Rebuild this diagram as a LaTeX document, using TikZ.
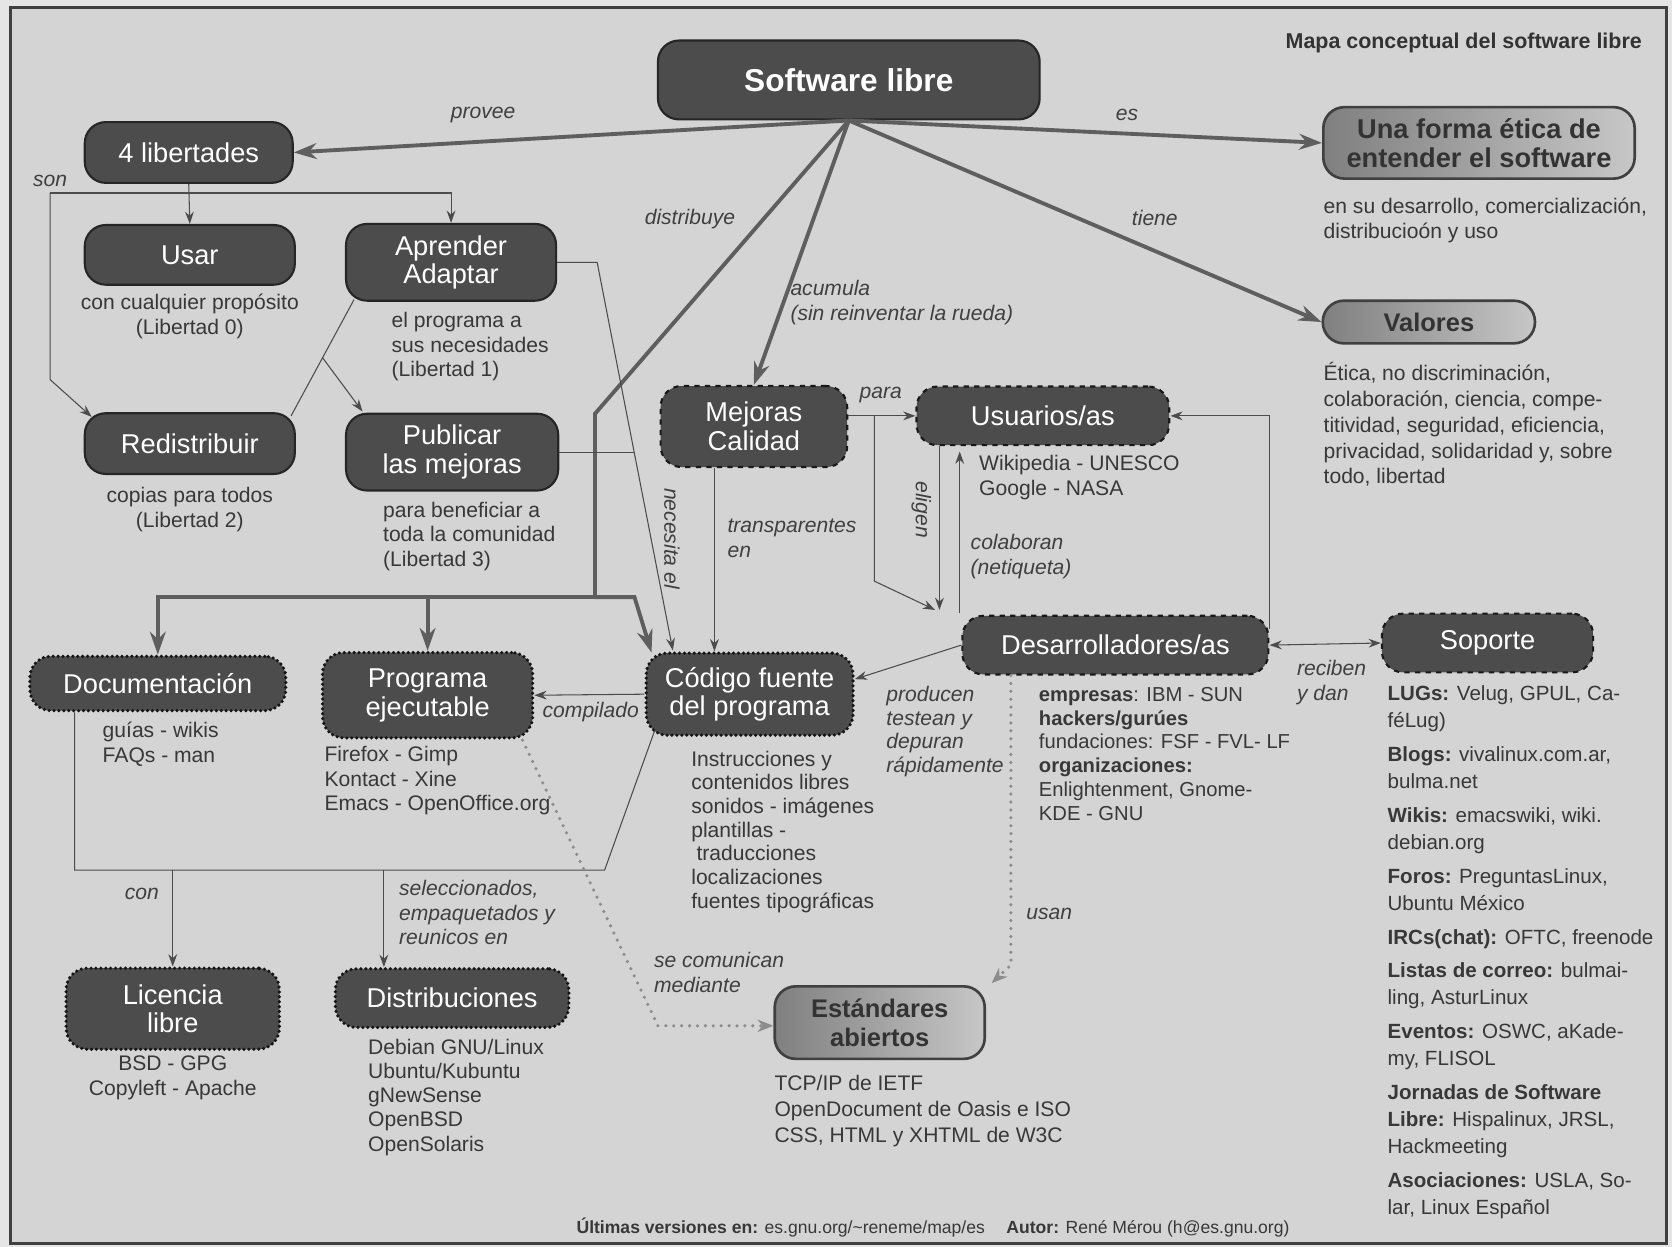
\documentclass[tikz,border=0pt]{standalone}
\usepackage{fontspec}
\setmainfont{Liberation Sans}
\usetikzlibrary{arrows.meta,calc}

\newcommand{\px}{0.021327cm}
\newcommand{\boxsize}{\fontsize{15.5}{16.3}\selectfont}
\newcommand{\descsize}{\fontsize{12}{14}\selectfont}

\begin{document}
\begin{tikzpicture}[x=\px, y=-\px,
	box/.style={draw=black!85, fill=black!70, text=white, rounded corners=12pt, line width=1.2pt, align=center, inner sep=0pt, font=\boxsize},
	dashbox/.style={box, dashed, draw=black!90},
	dotbox/.style={box, draw=black!92, line width=2pt, dash pattern=on 0pt off 2.8pt, line cap=round},
	lightbox/.style={box, draw=black!75, left color=black!50, right color=black!22, text=black!80, font=\boxsize\bfseries, line width=1.5pt},
	wh/.style 2 args={minimum width=#1*\px, minimum height=#2*\px},
	lbl/.style={font=\descsize\itshape, text=black!75, inner sep=0pt, align=left},
	desc/.style={font=\descsize, text=black!78, inner sep=0pt, align=left},
	thickarr/.style={line width=2.2pt, draw=black!63, -{Stealth[length=13pt,width=9pt]}},
	thinline/.style={line width=0.6pt, draw=black!70},
	thinarr/.style={thinline, -{Stealth[length=7pt,width=5pt]}},
	dotarr/.style={line width=2pt, draw=black!45, dash pattern=on 0pt off 4.5pt, line cap=round, -{Stealth[length=9pt,width=7pt]}}]

		\useasboundingbox (0,0) rectangle (1568,1169);
		\fill[black!10] (0,0) rectangle (1568,1169);
		\draw[line width=1.5pt, draw=black!75, fill=black!17] (10,7) rectangle (1563,1166);

		\node[desc, anchor=east, font=\fontsize{12.2}{14}\selectfont\bfseries, text=black!80] (titulo) at (1540,40) {Mapa conceptual del software libre};

		\node[box, wh={358}{74}, font=\fontsize{18}{20}\selectfont\bfseries] (sl) at (796,75) {Software libre};
		\node[box, wh={195}{57}] (lib) at (177,143) {4 libertades};
		\node[box, wh={197}{56}] (usar) at (178,239) {Usar};
		\node[box, wh={197}{72}] (apr) at (423,246) {Aprender\\Adaptar};
		\node[box, wh={197}{57}] (redis) at (178,416) {Redistribuir};
		\node[box, wh={199}{72}] (publ) at (424,424) {Publicar\\las mejoras};
		\node[dashbox, wh={175}{76}] (mej) at (707,400) {Mejoras\\Calidad};
		\node[dashbox, wh={237}{55}] (usu) at (978,390) {Usuarios/as};
		\node[dashbox, wh={287}{55}] (des) at (1046,605) {Desarrolladores/as};
		\node[dashbox, wh={198}{55}] (sop) at (1395,603) {Soporte};
		\node[lightbox, wh={292}{67}] (etica) at (1387,134) {Una forma ética de\\entender el software};
		\node[lightbox, wh={199}{40}, font=\fontsize{14.5}{16}\selectfont\bfseries] (val) at (1340,302) {Valores};
		\node[dotbox, wh={240}{51}] (doc) at (148,641) {Documentación};
		\node[dotbox, wh={197}{80}] (prog) at (401,652) {Programa\\ejecutable};
		\node[dotbox, wh={194}{77}] (cod) at (703,651) {Código fuente\\del programa};
		\node[dotbox, wh={200}{76}] (lic) at (162,946) {Licencia\\libre};
		\node[dotbox, wh={219}{55}] (dist) at (424,936) {Distribuciones};
		\node[lightbox, wh={197}{68}, font=\fontsize{14.5}{16.3}\selectfont\bfseries] (est) at (825,959) {Estándares\\abiertos};

		\coordinate (dbend) at (558,388);
		\coordinate (dbus) at (558,560);
		\coordinate (dright) at (595,560);
		\coordinate (codnw) at (611,612);
		\draw[thickarr] (sl.south) -- (lib.east);
		\draw[thickarr] (sl.south) -- (etica.west);
		\draw[thickarr] (sl.south) -- (val.west);
		\draw[thickarr] (sl.south) -- (mej.north);
		\draw[thickarr, -] (sl.south) -- (dbend) -- (dbus);
		\draw[thickarr] (dbus) -- (dbus -| doc.north) -- (doc.north);
		\draw[thickarr] (dbus -| prog.north) -- (prog.north);
		\draw[thickarr] (dbus) -- (dright) -- (codnw);

		\coordinate (son) at (47,181);
		\coordinate (sonbend) at (47,356);
		\coordinate (redisnw) at (86,391);
		\draw[thinarr] (lib.south) -- (usar.north);
		\draw[thinarr] (son) -- (son -| apr.north) -- (apr.north);
		\draw[thinarr] (son) -- (sonbend) -- (redisnw);

		\coordinate (aprsw) at (332,281);
		\coordinate (redisne) at (273,390);
		\coordinate (publnw) at (340,386);
		\draw[thinline] (aprsw) -- (redisne);
		\draw[thinarr] ($(aprsw)!0.5!(redisne)$) -- (publnw);

		\coordinate (necA) at (560,247);
		\coordinate (necB) at (631,610);
		\coordinate (necC) at (594.6,424);
		\draw[thinarr] (apr.east) -- (apr.east -| necA) -- (necB);
		\draw[thinline] (publ.east) -- (necC);

		\coordinate (trx) at (670,0);
		\draw[thinarr] (mej.south -| trx) -- (cod.north -| trx);

		\coordinate (pb1) at (820,390);
		\coordinate (pb2) at (820,545);
		\coordinate (pb3) at (877,572);
		\draw[thinarr] (mej.east |- usu.west) -- (usu.west);
		\draw[thinarr] (pb1) -- (pb2) -- (pb3);

		\coordinate (el) at (881,0);
		\coordinate (co) at (900,575);
		\draw[thinarr] (usu.south -| el) -- (el |- pb3);
		\draw[thinarr, shorten >=3pt] (co) -- (co |- usu.south);
		\draw[thinarr] ([yshift=0.32cm]des.east) |- (usu.east);
		\draw[thinarr] (des.west) -- ([yshift=0.3cm]cod.east);
		\draw[thinarr, {Stealth[length=7pt,width=5pt]}-{Stealth[length=7pt,width=5pt]}] (des.east) -- (sop.west);
		\draw[thinarr] (cod.west) -- (prog.east);

		\coordinate (codsw) at (614,685);
		\coordinate (busR) at (567,816);
		\coordinate (busL) at (70,816);
		\coordinate (distx) at (360,816);
		\draw[thinline] (codsw) -- (busR) -- (busL) -- (busL |- doc.south);
		\draw[thinarr] (busL -| lic.north) -- (lic.north);
		\draw[thinarr] (distx) -- (distx |- dist.north);

		\coordinate (us1) at (948,905);
		\coordinate (us2) at (930,922);
		\coordinate (sc1) at (490,694);
		\coordinate (sc2) at (617,962);
		\draw[dotarr] (des.south -| us1) -- (us1) -- (us2);
		\draw[dotarr] (sc1) -- (sc2) -- (est.west |- sc2);

		\node[lbl] (lprovee) at (453,108) {provee};
		\node[lbl] (les) at (1057,108) {es};
		\node[lbl] (lson) at (47,170) {son};
		\node[lbl] (ldistr) at (647,205) {distribuye};
		\node[lbl] (ltiene) at (1083,204) {tiene};
		\node[lbl, anchor=west] (lacum) at (741,284) {acumula\\(sin reinventar la rueda)};
		\node[lbl] (lpara) at (826,370) {para};
		\node[lbl, rotate=-90] (lnec) at (630,505) {necesita el};
		\node[lbl, anchor=west] (ltransp) at (682,505) {transparentes\\en};
		\node[lbl, rotate=-90] (leligen) at (864,478) {eligen};
		\node[lbl, anchor=west] (lcolab) at (910,522) {colaboran\\(netiqueta)};
		\node[lbl] (lcomp) at (554,668) {compilado};
		\node[lbl, anchor=west, font=\fontsize{12}{13.6}\selectfont\itshape] (lprod) at (831,686) {producen\\testean y\\depuran\\rápidamente};
		\node[lbl, anchor=west] (lrecib) at (1216,640) {reciben\\y dan};
		\node[lbl] (lcon) at (133,838) {con};
		\node[lbl, anchor=west] (lselec) at (374,856) {seleccionados,\\empaquetados y\\reunicos en};
		\node[lbl] (lusan) at (984,857) {usan};
		\node[lbl, anchor=west] (lsecom) at (613,912) {se comunican\\mediante};

		\node[desc, align=center] (dusar) at (178,297) {con cualquier propósito\\(Libertad 0)};
		\node[desc, anchor=west] (dapr) at (367,325) {el programa a\\sus necesidades\\(Libertad 1)};
		\node[desc, align=center] (dredis) at (178,478) {copias para todos\\(Libertad 2)};
		\node[desc, anchor=west] (dpubl) at (359,503) {para beneficiar a\\toda la comunidad\\(Libertad 3)};
		\node[desc, anchor=west] (detica) at (1241,207) {en su desarrollo, comercialización,\\distribucioón y uso};
		\node[desc, anchor=west, font=\fontsize{12}{14.7}\selectfont] (dval) at (1241,398) {Ética, no discriminación,\\colaboración, ciencia, compe-\\titividad, seguridad, eficiencia,\\privacidad, solidaridad y, sobre\\todo, libertad};
		\node[desc, anchor=west] (dusu) at (918,448) {Wikipedia - UNESCO\\Google - NASA};
		\node[desc, anchor=west] (ddoc) at (96,698) {guías - wikis\\FAQs - man};
		\node[desc, anchor=west, font=\fontsize{12}{13.8}\selectfont] (dprog) at (304,732) {Firefox - Gimp\\Kontact - Xine\\Emacs - OpenOffice.org};
		\node[desc, anchor=west, font=\fontsize{12}{13.5}\selectfont] (dcod) at (648,780) {Instrucciones y\\contenidos libres\\sonidos - imágenes\\plantillas -\\\hspace{3pt}traducciones\\localizaciones\\fuentes tipográficas};
		\node[desc, anchor=west, font=\fontsize{11.5}{13.6}\selectfont] (ddes) at (974,707) {\textbf{empresas}: IBM - SUN\\\textbf{hackers/gurúes}\\fundaciones: FSF - FVL- LF\\\textbf{organizaciones:}\\Enlightenment, Gnome-\\KDE - GNU};
		\node[desc, anchor=north west, font=\fontsize{11.7}{15.4}\selectfont] (dsop) at (1301,643) {\textbf{LUGs:} Velug, GPUL, Ca-\\féLug)\\[3.8pt]\textbf{Blogs:} vivalinux.com.ar,\\bulma.net\\[3.8pt]\textbf{Wikis:} emacswiki, wiki.\\debian.org\\[3.8pt]\textbf{Foros:} PreguntasLinux,\\Ubuntu México\\[3.8pt]\textbf{IRCs(chat):} OFTC, freenode\\[3.8pt]\textbf{Listas de correo:} bulmai-\\ling, AsturLinux\\[3.8pt]\textbf{Eventos:} OSWC, aKade-\\my, FLISOL\\[3.8pt]\textbf{Jornadas de Software}\\\textbf{Libre:} Hispalinux, JRSL,\\Hackmeeting\\[3.8pt]\textbf{Asociaciones:} USLA, So-\\lar, Linux Español};
		\node[desc, align=center] (dlic) at (162,1011) {BSD - GPG\\Copyleft - Apache};
		\node[desc, anchor=west, font=\fontsize{12}{13.8}\selectfont] (ddist) at (345,1029) {Debian GNU/Linux\\Ubuntu/Kubuntu\\gNewSense\\OpenBSD\\OpenSolaris};
		\node[desc, anchor=west, font=\fontsize{12}{14.6}\selectfont] (dest) at (726,1042) {TCP/IP de IETF\\OpenDocument de Oasis e ISO\\CSS, HTML y XHTML de W3C};

		\node[desc, font=\fontsize{10}{12}\selectfont] (pie) at (875,1151) {\textbf{Últimas versiones en:} es.gnu.org/\textasciitilde reneme/map/es\hspace{0.43cm}\textbf{Autor:} René Mérou (h@es.gnu.org)};
\end{tikzpicture}
\end{document}
